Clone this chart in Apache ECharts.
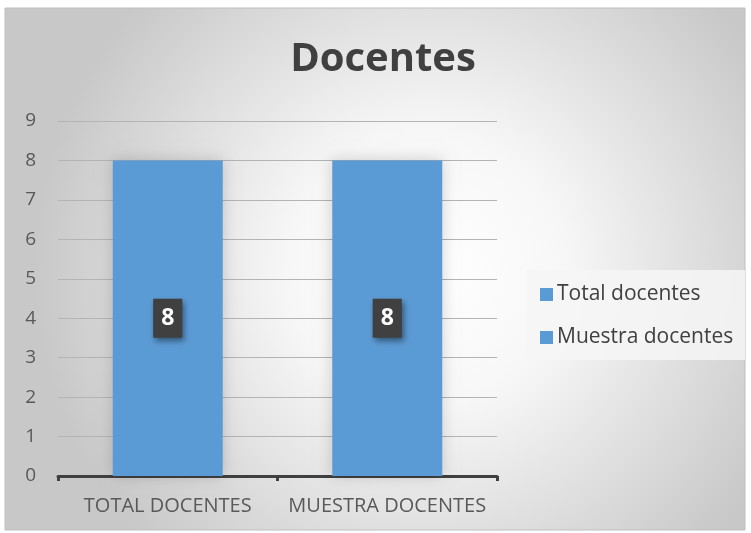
<!DOCTYPE html>
<html>
<head>
<meta charset="utf-8">
<script src="https://cdn.jsdelivr.net/npm/echarts@6/dist/echarts.min.js"></script>
<style>
html,body{margin:0;padding:0;background:#fff;}
#main{width:751px;height:533px;}
</style>
</head>
<body>
<div id="main"></div>
<script>
var categories = ['TOTAL DOCENTES', 'MUESTRA DOCENTES'];
var seriesNames = ['Total docentes', 'Muestra docentes'];
var totalDocentes = [8, '-'];
var muestraDocentes = ['-', 8];
var yTicks = [0, 1, 2, 3, 4, 5, 6, 7, 8, 9];

var chart = echarts.init(document.getElementById('main'));

var fontFam = '"Open Sans", "Noto Sans", sans-serif';

// etiqueta oscura sobre la barra
var dataLabel = {
    show: true,
    position: 'inside',
    color: '#fff',
    fontWeight: 'bold',
    fontSize: 23,
    fontFamily: fontFam,
    backgroundColor: '#404040',
    padding: [8, 8, 8, 8],
    shadowBlur: 6,
    shadowOffsetX: 2,
    shadowOffsetY: 3,
    shadowColor: 'rgba(0,0,0,0.45)'
};

function makeSeries(name, data){
    return {
        name: name,
        type: 'bar',
        stack: 'docentes',
        barWidth: 110,
        data: data,
        itemStyle: {
            color: '#5b9bd5',
            shadowBlur: 14,
            shadowColor: 'rgba(0,0,0,0.18)'
        },
        label: dataLabel
    };
}

var option = {
    animation: false,
    graphic: [
        {
            type: 'rect',
            z: -10,
            silent: true,
            shape: {x: 5, y: 8, width: 740, height: 522},
            style: {
                fill: {
                    type: 'radial', x: 0.57, y: 0.5, r: 0.75,
                    colorStops: [
                        {offset: 0, color: '#ffffff'},
                        {offset: 0.35, color: '#f7f7f7'},
                        {offset: 1, color: '#c8c8c8'}
                    ]
                },
                stroke: '#bfbfbf',
                lineWidth: 1
            }
        },
        {
            type: 'rect',
            z: -5,
            silent: true,
            shape: {x: 526, y: 270, width: 219, height: 90},
            style: {fill: 'rgba(246,246,246,0.85)'}
        }
    ],
    title: {
        text: 'Docentes',
        left: 378,
        top: 35,
        textAlign: 'center',
        textStyle: {
            fontSize: 40,
            fontWeight: 'bold',
            color: '#404040',
            fontFamily: fontFam
        }
    },
    legend: {
        orient: 'vertical',
        left: 535,
        top: 279,
        itemWidth: 13,
        itemHeight: 13,
        itemGap: 22,
        icon: 'rect',
        data: seriesNames,
        textStyle: {
            fontSize: 21,
            color: '#404040',
            fontFamily: fontFam,
            padding: [0, 0, 0, -1]
        }
    },
    grid: {
        left: 58,
        right: 254,
        top: 121,
        bottom: 57
    },
    xAxis: {
        type: 'category',
        data: categories,
        axisLine: {lineStyle: {color: '#404040', width: 3}},
        axisTick: {show: true, length: 5, lineStyle: {color: '#404040', width: 3}},
        axisLabel: {
            interval: 0,
            hideOverlap: false,
            fontSize: 20,
            color: '#595959',
            margin: 20,
            fontFamily: fontFam
        }
    },
    yAxis: {
        type: 'value',
        min: yTicks[0],
        max: yTicks[yTicks.length - 1],
        interval: 1,
        axisLine: {show: false},
        axisTick: {show: false},
        axisLabel: {
            fontSize: 19,
            color: '#595959',
            margin: 22,
            fontFamily: fontFam
        },
        splitLine: {lineStyle: {color: '#b4b4b4', width: 1}}
    },
    series: [
        makeSeries(seriesNames[0], totalDocentes),
        makeSeries(seriesNames[1], muestraDocentes)
    ]
};

chart.setOption(option);
</script>
</body>
</html>
